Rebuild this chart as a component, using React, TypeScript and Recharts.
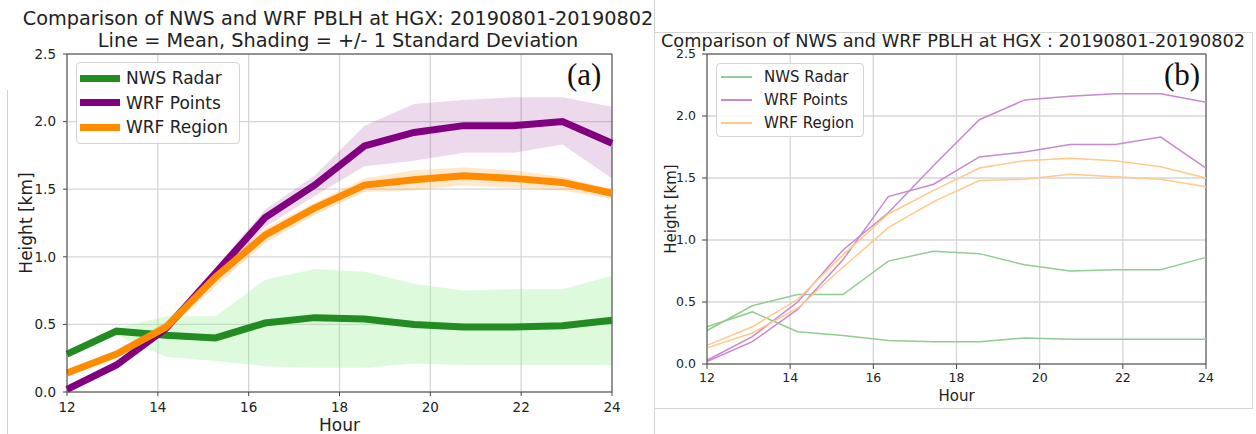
import React from "react";
import {
  ComposedChart,
  LineChart,
  Line,
  Area,
  XAxis,
  YAxis,
  CartesianGrid,
  Legend,
  ReferenceLine,
} from "recharts";

// hours of the sampled profiles (12 samples between 12 and 24)
const hours = [12, 13.09, 14.18, 15.27, 16.36, 17.45, 18.55, 19.64, 20.73, 21.82, 22.91, 24];

// means, panel (a)
const nwsMean = [0.28, 0.45, 0.42, 0.4, 0.51, 0.55, 0.54, 0.5, 0.48, 0.48, 0.49, 0.53];
const pointsMean = [0.02, 0.2, 0.47, 0.88, 1.29, 1.53, 1.82, 1.92, 1.97, 1.97, 2.0, 1.84];
const regionMean = [0.14, 0.28, 0.48, 0.85, 1.16, 1.36, 1.53, 1.57, 1.6, 1.58, 1.55, 1.47];

// +/- 1 std lines, panel (b)
const nwsUpper = [0.27, 0.47, 0.56, 0.56, 0.83, 0.91, 0.89, 0.8, 0.75, 0.76, 0.76, 0.86];
const nwsLower = [0.3, 0.42, 0.26, 0.23, 0.19, 0.18, 0.18, 0.21, 0.2, 0.2, 0.2, 0.2];
const pointsUpper = [0.03, 0.22, 0.5, 0.92, 1.22, 1.6, 1.97, 2.13, 2.16, 2.18, 2.18, 2.11];
const pointsLower = [0.02, 0.18, 0.44, 0.84, 1.35, 1.45, 1.67, 1.71, 1.77, 1.77, 1.83, 1.58];
const regionUpper = [0.15, 0.3, 0.52, 0.88, 1.21, 1.4, 1.58, 1.64, 1.66, 1.64, 1.59, 1.5];
const regionLower = [0.13, 0.25, 0.45, 0.78, 1.1, 1.31, 1.48, 1.49, 1.53, 1.51, 1.49, 1.43];

const xTicks = [12, 14, 16, 18, 20, 22, 24];
const yTicks = [0, 0.5, 1, 1.5, 2, 2.5];

const band = (a: number, b: number) => [Math.min(a, b), Math.max(a, b)];

const rows = hours.map((hour, i) => ({
  hour,
  nwsMean: nwsMean[i],
  pointsMean: pointsMean[i],
  regionMean: regionMean[i],
  nwsUpper: nwsUpper[i],
  nwsLower: nwsLower[i],
  pointsUpper: pointsUpper[i],
  pointsLower: pointsLower[i],
  regionUpper: regionUpper[i],
  regionLower: regionLower[i],
  nwsBand: band(nwsLower[i], nwsUpper[i]),
  pointsBand: band(pointsLower[i], pointsUpper[i]),
  regionBand: band(regionLower[i], regionUpper[i]),
}));

const FONT = "'DejaVu Sans', sans-serif";

const makeLegend =
  (o: { width: number; rowH: number; padTop: number; padLeft: number; handleW: number; lineW: number; gap: number; fontSize: number }) =>
  ({ payload }: any) => (
    <div
      style={{
        width: o.width,
        boxSizing: "border-box",
        border: "1px solid #d3d3d3",
        borderRadius: 4,
        background: "rgba(255,255,255,0.85)",
        padding: `${o.padTop}px 0 ${o.padTop}px ${o.padLeft}px`,
        fontFamily: FONT,
        fontSize: o.fontSize,
        color: "#222",
      }}
    >
      {(payload || [])
        .filter((p: any) => p.type !== "none" && !p.inactive)
        .map((p: any) => (
          <div key={p.value} style={{ display: "flex", alignItems: "center", height: o.rowH }}>
            <span style={{ display: "inline-block", width: o.handleW, height: o.lineW, background: p.color, marginRight: o.gap }} />
            <span>{p.value}</span>
          </div>
        ))}
    </div>
  );

const tickA = { fill: "#222", fontSize: 13.5, fontFamily: FONT };
const tickB = { fill: "#222", fontSize: 12.5, fontFamily: FONT };

const PanelA = () => (
  <ComposedChart
    width={640}
    height={434}
    data={rows}
    margin={{ top: 54, right: 28, left: 0, bottom: 0 }}
  >
    <CartesianGrid stroke="#d6d6d6" strokeWidth={1.3} />
    <XAxis
      dataKey="hour"
      type="number"
      domain={[12, 24]}
      ticks={xTicks}
      height={42}
      tickSize={4}
      tickMargin={6}
      tick={tickA}
      stroke="#444"
      label={{ value: "Hour", position: "insideBottom", offset: 3, fill: "#222", fontSize: 17, fontFamily: FONT }}
    />
    <YAxis
      domain={[0, 2.5]}
      ticks={yTicks}
      width={67}
      tickSize={4}
      tickMargin={7}
      tick={tickA}
      stroke="#444"
      tickFormatter={(v: number) => v.toFixed(1)}
      label={{ value: "Height [km]", angle: -90, position: "insideLeft", offset: 26, fill: "#222", fontSize: 17, fontFamily: FONT, style: { textAnchor: "middle" } }}
    />
    <ReferenceLine y={2.5} stroke="#444" />
    <ReferenceLine x={24} stroke="#444" />
    <Area dataKey="nwsBand" stroke="none" fill="#90ee90" fillOpacity={0.3} legendType="none" isAnimationActive={false} />
    <Area dataKey="pointsBand" stroke="none" fill="#800080" fillOpacity={0.15} legendType="none" isAnimationActive={false} />
    <Area dataKey="regionBand" stroke="none" fill="#ff8c00" fillOpacity={0.2} legendType="none" isAnimationActive={false} />
    <Line dataKey="nwsMean" name="NWS Radar" stroke="#228b22" strokeWidth={7} dot={false} isAnimationActive={false} />
    <Line dataKey="pointsMean" name="WRF Points" stroke="#800080" strokeWidth={7} dot={false} isAnimationActive={false} />
    <Line dataKey="regionMean" name="WRF Region" stroke="#ff8c00" strokeWidth={7} dot={false} isAnimationActive={false} />
    <Legend
      layout="vertical"
      align="center"
      verticalAlign="middle"
      wrapperStyle={{ left: 76, top: 62, width: 164 }}
      content={makeLegend({ width: 164, rowH: 24.5, padTop: 3, padLeft: 3, handleW: 40, lineW: 7, gap: 6, fontSize: 17 })}
    />
  </ComposedChart>
);

const PanelB = () => (
  <LineChart
    width={599}
    height={434}
    data={rows}
    margin={{ top: 54, right: 47, left: 0, bottom: 0 }}
  >
    <CartesianGrid stroke="#d6d6d6" strokeWidth={1.3} />
    <XAxis
      dataKey="hour"
      type="number"
      domain={[12, 24]}
      ticks={xTicks}
      height={70}
      tickSize={5}
      tickMargin={4}
      tick={tickB}
      stroke="#444"
      label={{ value: "Hour", position: "insideBottom", offset: 33, fill: "#222", fontSize: 15, fontFamily: FONT }}
    />
    <YAxis
      domain={[0, 2.5]}
      ticks={yTicks}
      width={53}
      tickSize={5}
      tickMargin={6}
      tick={tickB}
      stroke="#444"
      tickFormatter={(v: number) => v.toFixed(1)}
      label={{ value: "Height [km]", angle: -90, position: "insideLeft", offset: 17, fill: "#222", fontSize: 15, fontFamily: FONT, style: { textAnchor: "middle" } }}
    />
    <ReferenceLine y={2.5} stroke="#444" />
    <ReferenceLine x={24} stroke="#444" />
    <Line dataKey="nwsUpper" name="NWS Radar" stroke="#92cc92" strokeWidth={1.5} dot={false} isAnimationActive={false} />
    <Line dataKey="nwsLower" stroke="#92cc92" strokeWidth={1.5} dot={false} legendType="none" isAnimationActive={false} />
    <Line dataKey="pointsUpper" name="WRF Points" stroke="#c78ad0" strokeWidth={1.5} dot={false} isAnimationActive={false} />
    <Line dataKey="pointsLower" stroke="#c78ad0" strokeWidth={1.5} dot={false} legendType="none" isAnimationActive={false} />
    <Line dataKey="regionUpper" name="WRF Region" stroke="#ffc98a" strokeWidth={1.5} dot={false} isAnimationActive={false} />
    <Line dataKey="regionLower" stroke="#ffc98a" strokeWidth={1.5} dot={false} legendType="none" isAnimationActive={false} />
    <Legend
      layout="vertical"
      align="center"
      verticalAlign="middle"
      wrapperStyle={{ left: 62, top: 63, width: 148 }}
      content={makeLegend({ width: 148, rowH: 23, padTop: 1.5, padLeft: 4, handleW: 31, lineW: 1.5, gap: 12, fontSize: 15 })}
    />
  </LineChart>
);

const abs = (left: number, top: number): React.CSSProperties => ({ position: "absolute", left, top });

export default function App() {
  return (
    <div style={{ position: "absolute", left: 0, top: 0, width: 1256, height: 434, background: "#fff", overflow: "hidden", fontFamily: FONT, color: "#222" }}>
      {/* screenshot frames */}
      <div style={{ ...abs(7, 90), width: 1, height: 344, background: "#d0d0d0" }} />
      <div style={{ ...abs(654, 0), width: 1, height: 434, background: "#d0d0d0" }} />
      <div style={{ ...abs(654, 32), width: 599, height: 377, boxSizing: "border-box", border: "1px solid #d6d6d6" }} />

      <div style={abs(0, 0)}>
        <PanelA />
      </div>
      <div style={{ ...abs(0, 8), width: 676, textAlign: "center", fontSize: 19.3, lineHeight: "22px", whiteSpace: "nowrap" }}>
        Comparison of NWS and WRF PBLH at HGX: 20190801-20190802
        <br />
        Line = Mean, Shading = +/- 1 Standard Deviation
      </div>
      <div style={{ ...abs(567, 57), fontFamily: "'Liberation Serif', serif", fontSize: 31, color: "#111" }}>(a)</div>

      <div style={abs(654, 0)}>
        <PanelB />
      </div>
      <div style={{ ...abs(661, 31), fontSize: 17.7, whiteSpace: "nowrap" }}>
        Comparison of NWS and WRF PBLH at HGX : 20190801-20190802
      </div>
      <div style={{ ...abs(1164, 57), fontFamily: "'Liberation Serif', serif", fontSize: 31, color: "#111" }}>(b)</div>
    </div>
  );
}
